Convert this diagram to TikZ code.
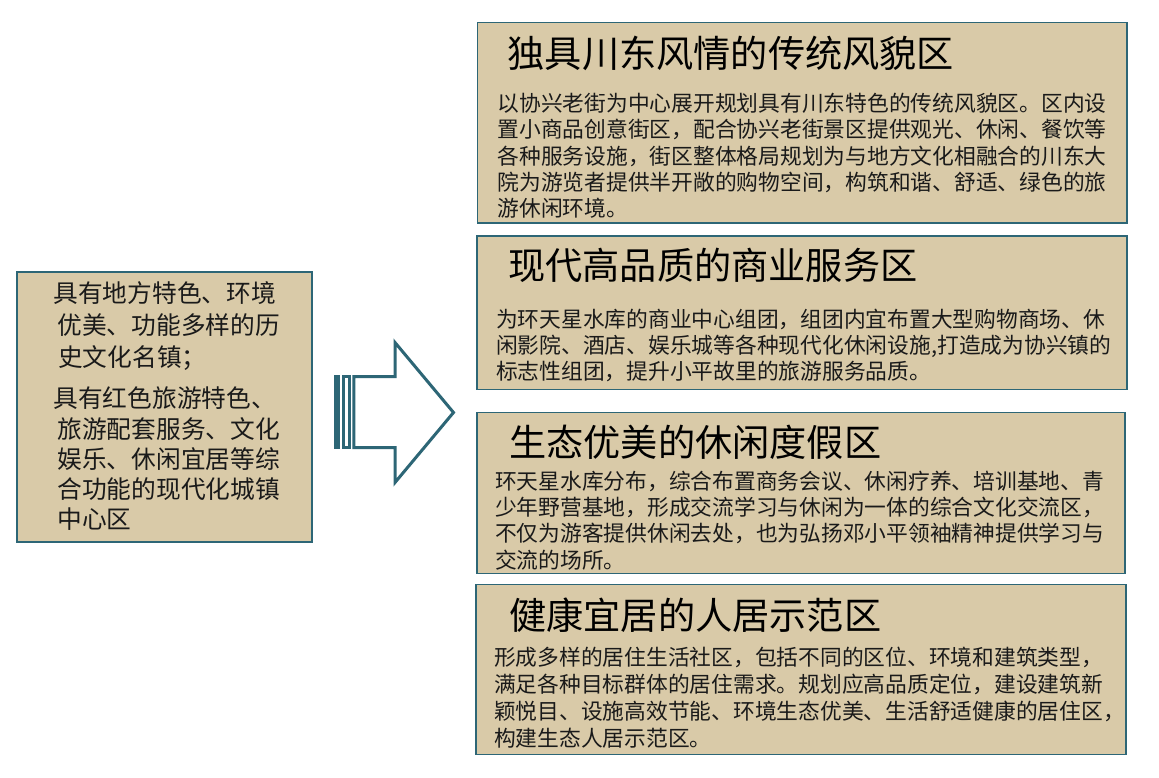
\documentclass[tikz,border=0pt]{standalone}
\usepackage{fontspec}
\setmainfont{Noto Sans CJK SC}
\definecolor{boxfill}{HTML}{D9CAA8}
\definecolor{boxline}{HTML}{2D6676}
\definecolor{inktext}{HTML}{1A1A1A}
\tikzset{
  panel/.style={draw=boxline, line width=1.5pt, fill=boxfill, inner sep=0pt, outer sep=0pt, anchor=north west},
  ttl/.style={anchor=base west, inner sep=0pt, text=black, font=\fontsize{37.2}{40}\selectfont},
  bodytxt/.style={anchor=base west, inner sep=0pt, text=inktext, font=\fontsize{21.75}{26}\selectfont},
  lefttxt/.style={anchor=base west, inner sep=0pt, text=inktext, font=\fontsize{24.7}{31}\selectfont},
  arrowline/.style={draw=boxline, line width=3pt, line join=miter}
}
\begin{document}
\begin{tikzpicture}[x=1pt, y=-1pt]
\useasboundingbox[fill=white] (0,0) rectangle (1159,778);

% panels
\node[panel, minimum width=295pt, minimum height=270pt] (p0) at (17,272) {};
\node[panel, minimum width=649.5pt, minimum height=200.5pt] (p1) at (477.5,22.3) {};
\node[panel, minimum width=650pt, minimum height=153.5pt] (p2) at (477,236) {};
\node[panel, minimum width=648pt, minimum height=161pt] (p3) at (477,412.3) {};
\node[panel, minimum width=650pt, minimum height=170pt] (p4) at (476,584.5) {};

% left panel text
\node[lefttxt] (l1) at (53.3,302.7) {具有地方特色、环境};
\node[lefttxt] (l2) at (57.3,334.4) {优美、功能多样的历};
\node[lefttxt] (l3) at (58,366.1) {史文化名镇；};
\node[lefttxt] (l4) at (53.3,407.7) {具有红色旅游特色、};
\node[lefttxt] (l5) at (57.3,438) {旅游配套服务、文化};
\node[lefttxt] (l6) at (57.3,468.2) {娱乐、休闲宜居等综};
\node[lefttxt] (l7) at (57.3,498.5) {合功能的现代化城镇};
\node[lefttxt] (l8) at (57.3,528.7) {中心区};

% block arrow
\coordinate (aTip) at (453.5,412.5);
\draw[arrowline, fill=white] (353.8,376.5) -- (395,376.5) -- (395,342.5) -- (aTip) -- (395,482.5) -- (395,447.5) -- (353.8,447.5) -- cycle;
\draw[arrowline] (335.8,376.5) rectangle (338.8,447.5);
\draw[arrowline] (343.2,376.5) rectangle (349.5,447.5);

% panel 1
\node[ttl] (t1) at (507.5,67.4) {独具川东风情的传统风貌区};
\foreach \s [count=\i] in {以协兴老街为中心展开规划具有川东特色的传统风貌区。区内设,置小商品创意街区，配合协兴老街景区提供观光、休闲、餐饮等,各种服务设施，街区整体格局规划为与地方文化相融合的川东大,院为游览者提供半开敞的购物空间，构筑和谐、舒适、绿色的旅,游休闲环境。}
  \node[bodytxt] (b1-\i) at (497.5,{111.6+(\i-1)*26.25}) {\s};

% panel 2
\node[ttl] (t2) at (508,279.8) {现代高品质的商业服务区};
\foreach \s [count=\i] in {为环天星水库的商业中心组团，组团内宜布置大型购物商场、休,{闲影院、酒店、娱乐城等各种现代化休闲设施,打造成为协兴镇的},标志性组团，提升小平故里的旅游服务品质。}
  \node[bodytxt] (b2-\i) at (496,{327.3+(\i-1)*26.3}) {\s};

% panel 3
\node[ttl] (t3) at (509,456.4) {生态优美的休闲度假区};
\foreach \s [count=\i] in {环天星水库分布，综合布置商务会议、休闲疗养、培训基地、青,少年野营基地，形成交流学习与休闲为一体的综合文化交流区，,不仅为游客提供休闲去处，也为弘扬邓小平领袖精神提供学习与,交流的场所。}
  \node[bodytxt] (b3-\i) at (495,{489+(\i-1)*26.4}) {\s};

% panel 4
\node[ttl] (t4) at (509,629.6) {健康宜居的人居示范区};
\foreach \s [count=\i] in {形成多样的居住生活社区，包括不同的区位、环境和建筑类型，,满足各种目标群体的居住需求。规划应高品质定位，建设建筑新,颖悦目、设施高效节能、环境生态优美、生活舒适健康的居住区，,构建生态人居示范区。}
  \node[bodytxt] (b4-\i) at (494,{665.3+(\i-1)*27}) {\s};
\end{tikzpicture}
\end{document}
